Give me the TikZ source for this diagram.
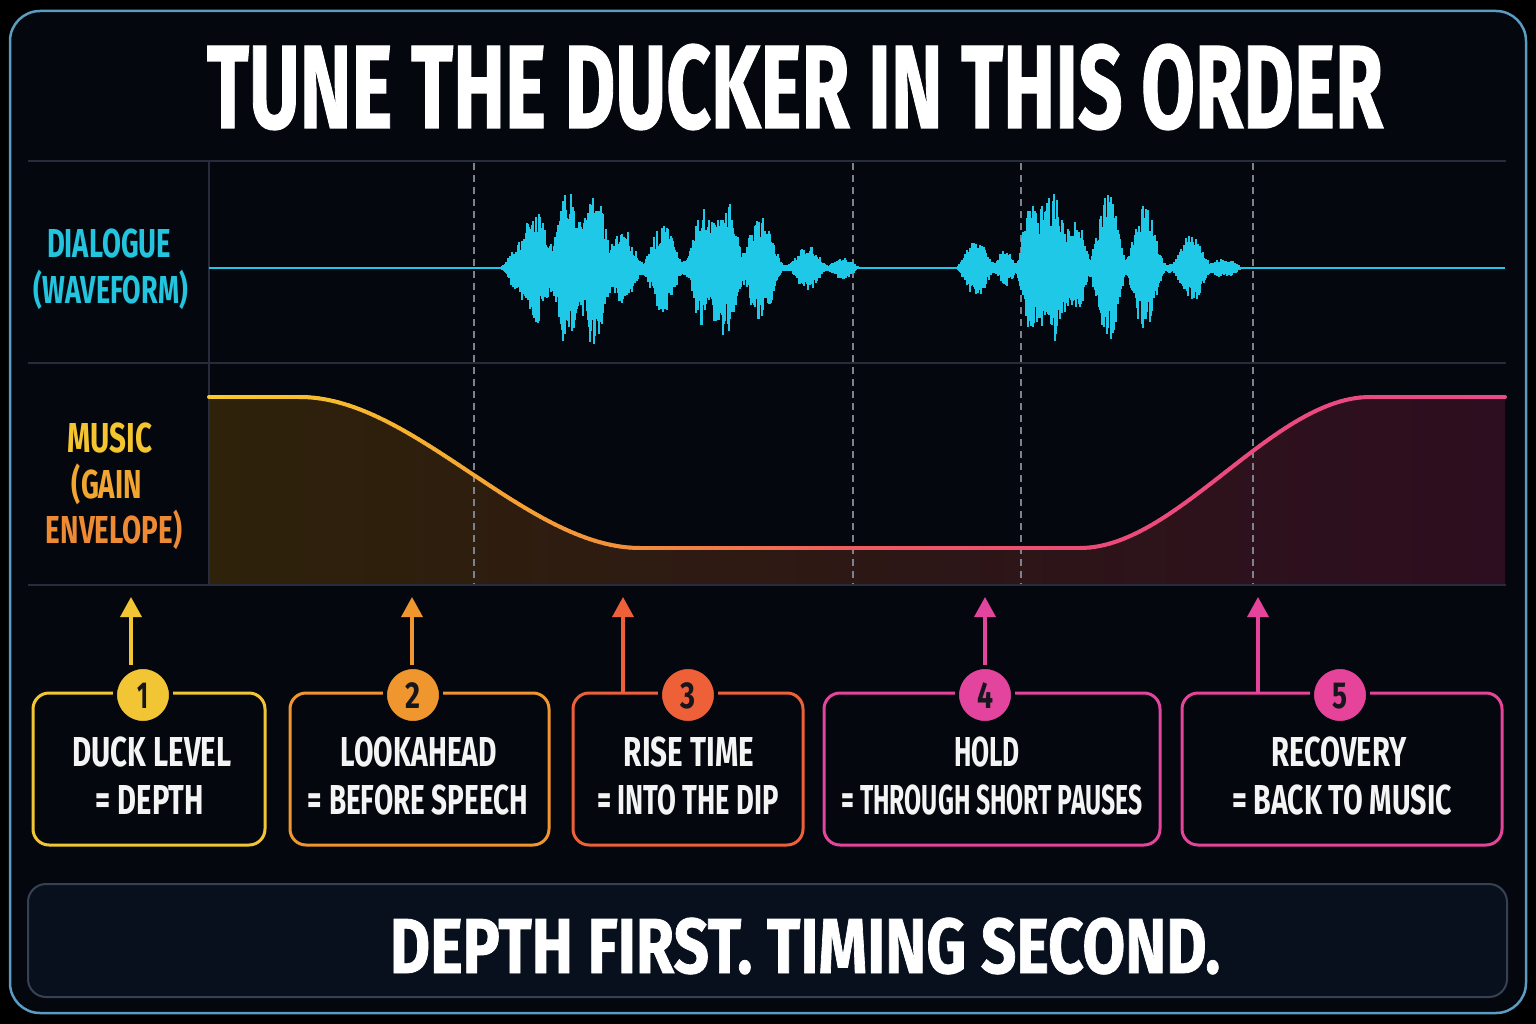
\documentclass[tikz,border=0pt]{standalone}
\usepackage{fontspec}
\usepackage{graphicx}
\usetikzlibrary{arrows.meta}
\newfontfamily\cf{Fira Sans}
\newfontfamily\cft{Fira Sans}[BoldFeatures={FakeBold=1.1}]
\newcommand{\fitt}[3]{\resizebox{#1}{#2}{\cf\bfseries\smash{#3}\vphantom{X}}}
\newcommand{\fitb}[3]{\resizebox{#1}{#2}{\cft\bfseries\smash{#3}\vphantom{X}}}
\definecolor{bgout}{HTML}{000000}
\definecolor{panel}{HTML}{04070E}
\definecolor{framec}{HTML}{5A9CC2}
\definecolor{gridc}{HTML}{262C3A}
\definecolor{dashc}{HTML}{7C828E}
\definecolor{cwave}{HTML}{1FC8E6}
\definecolor{ctext}{HTML}{22C4DE}
\definecolor{mus1}{HTML}{F4C52E}
\definecolor{mus2}{HTML}{F2A630}
\definecolor{mus3}{HTML}{EE8A34}
\definecolor{cy1}{HTML}{F8CB2A}
\definecolor{cy2}{HTML}{F6A832}
\definecolor{cy3}{HTML}{F28C3C}
\definecolor{cy4}{HTML}{EF5C60}
\definecolor{cy5}{HTML}{EC4A78}
\definecolor{cy6}{HTML}{EA4A86}
\definecolor{fl}{HTML}{2E220A}
\definecolor{fm}{HTML}{2A120F}
\definecolor{fr}{HTML}{2D0D20}
\definecolor{boxa}{HTML}{F2C534}
\definecolor{boxb}{HTML}{F0962E}
\definecolor{boxc}{HTML}{EE6038}
\definecolor{boxd}{HTML}{E3459E}
\definecolor{boxe}{HTML}{E6449A}
\definecolor{digit}{HTML}{16161C}
\definecolor{whitet}{HTML}{F4F4F4}
\definecolor{footf}{HTML}{07101C}
\definecolor{footb}{HTML}{374154}
\begin{document}
\begin{tikzpicture}[x=1pt,y=-1pt,
  declare function={
    sq(\qq)=\qq*\qq;
    bump(\pu,\pc,\pa,\pw)=\pa*sq(max(0,1-sq((\pu-\pc)/\pw)));
    clampt(\qq)=min(max(\qq,0),1);
    sstep(\qq)=sq(clampt(\qq))*(3-2*clampt(\qq));
    musicy(\qx)=397+151*(sstep((\qx-300)/340)-sstep((\qx-1080)/290));
    envA(\qx)=bump(\qx,660,8,215)+bump(\qx,518,22,17)+bump(\qx,537,52,21)+bump(\qx,567,75,19)+bump(\qx,594,77,20)+bump(\qx,623,33,19)+bump(\qx,663,37,20)+bump(\qx,703,52,18)+bump(\qx,726,64,20)+bump(\qx,761,48,23)+bump(\qx,808,21,21)+bump(\qx,843,11,19);
    envB(\qx)=bump(\qx,1100,7,165)+bump(\qx,976,29,21)+bump(\qx,1005,15,14)+bump(\qx,1032,62,17)+bump(\qx,1053,72,19)+bump(\qx,1076,43,16)+bump(\qx,1108,68,20)+bump(\qx,1145,58,20)+bump(\qx,1192,31,21)+bump(\qx,1225,9,20);
  },
  txt/.style={inner sep=0pt, outer sep=0pt, anchor=center},
  gridl/.style={draw=gridc, line width=1.3pt},
  dashl/.style={draw=dashc, line width=1.2pt, dash pattern=on 7pt off 5pt},
  wave/.style={draw=cwave, line width=1.15pt},
  envl/.style={line width=4pt, line cap=round},
  boxst/.style={rectangle, rounded corners=16pt, line width=3pt, fill=panel, minimum height=152pt, inner sep=0pt},
  numc/.style={circle, minimum size=56pt, inner sep=0pt, draw=panel, line width=4pt, text=digit},
  arr/.style={line width=3.5pt, -{Triangle[width=21pt,length=20pt]}},
]
\useasboundingbox (0,0) rectangle (1536,1024);
\fill[bgout] (0,0) rectangle (1536,1024);
\draw[draw=framec, fill=panel, line width=2.5pt, rounded corners=30pt] (10,11) rectangle (1526,1013);

% title
\node[txt, text=white] (title) at (795,87) {\fitb{1176pt}{82pt}{TUNE THE DUCKER IN THIS ORDER}};

% music fill
\shade[left color=fl, middle color=fm, right color=fr]
  plot[domain=209:1505, samples=160] (\x,{musicy(\x)}) -- (1505,585) -- (209,585) -- cycle;

% grid
\draw[gridl] (28,161) -- (1506,161);
\draw[gridl] (28,363) -- (1506,363);
\draw[gridl] (28,585) -- (1506,585);
\draw[gridl] (209,161) -- (209,585);

% dashed markers
\foreach \dx in {474,853,1021,1253}{
  \draw[dashl] (\dx,163) -- (\dx,584);
}

% dialogue waveform
\draw[draw=cwave, line width=2pt] (209,268) -- (1505,268);
\pgfmathsetseed{11}
\foreach \x in {474,475,...,870}{
  \pgfmathsetmacro\e{envA(\x)}
  \pgfmathsetmacro\hu{max(1,\e*(0.5+0.5*rnd))}
  \pgfmathsetmacro\hd{max(1,\e*(0.5+0.5*rnd))}
  \draw[wave] (\x,268-\hu) -- (\x,268+\hd);
}
\foreach \x in {945,946,...,1258}{
  \pgfmathsetmacro\e{envB(\x)}
  \pgfmathsetmacro\hu{max(1,\e*(0.5+0.5*rnd))}
  \pgfmathsetmacro\hd{max(1,\e*(0.5+0.5*rnd))}
  \draw[wave] (\x,268-\hu) -- (\x,268+\hd);
}

% music envelope curve
\foreach \xa/\xb/\ca/\cb in {209/470/cy1/cy2,470/640/cy2/cy3,640/850/cy3/cy4,850/1100/cy4/cy5,1100/1505/cy5/cy6}{
  \pgfmathtruncatemacro\xs{\xa+5}
  \pgfmathtruncatemacro\xe{\xb-5}
  \foreach \x in {\xa,\xs,...,\xe}{
    \pgfmathtruncatemacro\p{(\xb-\x)/(\xb-\xa)*100}
    \draw[envl, draw=\ca!\p!\cb] (\x,{musicy(\x)}) -- ({\x+5},{musicy(\x+5)});
  }
}

% row labels
\node[txt, text=ctext] (dlg1) at (109,243) {\fitt{124pt}{28pt}{DIALOGUE}};
\node[txt, text=ctext] (dlg2) at (111,290) {\fitt{154pt}{27pt}{(WAVEFORM)}};
\node[txt, text=mus1] (mus1) at (110,438) {\fitt{85pt}{29pt}{MUSIC}};
\node[txt, text=mus2] (mus2) at (107,484) {\fitt{70pt}{28pt}{(GAIN}};
\node[txt, text=mus3] (mus3) at (114,530) {\fitt{136pt}{27pt}{ENVELOPE)}};

% boxes
\node[boxst, draw=boxa, minimum width=232pt] (b1) at (149,769) {};
\node[boxst, draw=boxb, minimum width=259pt] (b2) at (419.5,769) {};
\node[boxst, draw=boxc, minimum width=230pt] (b3) at (688,769) {};
\node[boxst, draw=boxd, minimum width=336pt] (b4) at (992,769) {};
\node[boxst, draw=boxe, minimum width=320pt] (b5) at (1342,769) {};

% number circles
\node[numc, fill=boxa] (c1) at (143,695) {\fitt{11pt}{26pt}{1}};
\node[numc, fill=boxb] (c2) at (413,695) {\fitt{15pt}{26pt}{2}};
\node[numc, fill=boxc] (c3) at (688,695) {\fitt{15pt}{26pt}{3}};
\node[numc, fill=boxd] (c4) at (985,695) {\fitt{16pt}{26pt}{4}};
\node[numc, fill=boxe] (c5) at (1340,695) {\fitt{15pt}{26pt}{5}};

% arrows
\coordinate (t1) at (131,597);
\coordinate (t2) at (412,597);
\coordinate (t3) at (623,597);
\coordinate (t4) at (985,597);
\coordinate (t5) at (1258,597);
\draw[arr, draw=boxa] (c1.north -| t1) -- (t1);
\draw[arr, draw=boxb] (c2.north -| t2) -- (t2);
\draw[arr, draw=boxc] (b3.north -| t3) -- (t3);
\draw[arr, draw=boxd] (c4.north -| t4) -- (t4);
\draw[arr, draw=boxe] (b5.north -| t5) -- (t5);

% box texts
\node[txt, text=whitet] (l1a) at (152,752) {\fitt{159pt}{29pt}{DUCK LEVEL}};
\node[txt, text=whitet] (l1b) at (150,800) {\fitt{108pt}{29pt}{= DEPTH}};
\node[txt, text=whitet] (l2a) at (419,752) {\fitt{156pt}{29pt}{LOOKAHEAD}};
\node[txt, text=whitet] (l2b) at (418,800) {\fitt{220pt}{29pt}{= BEFORE SPEECH}};
\node[txt, text=whitet] (l3a) at (689,752) {\fitt{130pt}{29pt}{RISE TIME}};
\node[txt, text=whitet] (l3b) at (688,800) {\fitt{182pt}{29pt}{= INTO THE DIP}};
\node[txt, text=whitet] (l4a) at (987,752) {\fitt{66pt}{29pt}{HOLD}};
\node[txt, text=whitet] (l4b) at (992,800) {\fitt{301pt}{29pt}{= THROUGH SHORT PAUSES}};
\node[txt, text=whitet] (l5a) at (1339,752) {\fitt{135pt}{29pt}{RECOVERY}};
\node[txt, text=whitet] (l5b) at (1342,800) {\fitt{220pt}{29pt}{= BACK TO MUSIC}};

% footer
\node[draw=footb, fill=footf, line width=2pt, rounded corners=18pt, minimum width=1479pt, minimum height=113pt, inner sep=0pt] (foot) at (767.5,940.5) {};
\node[txt, text=white] (foottxt) at (805,946) {\fitb{830pt}{54pt}{DEPTH FIRST. TIMING SECOND.}};
\end{tikzpicture}
\end{document}
